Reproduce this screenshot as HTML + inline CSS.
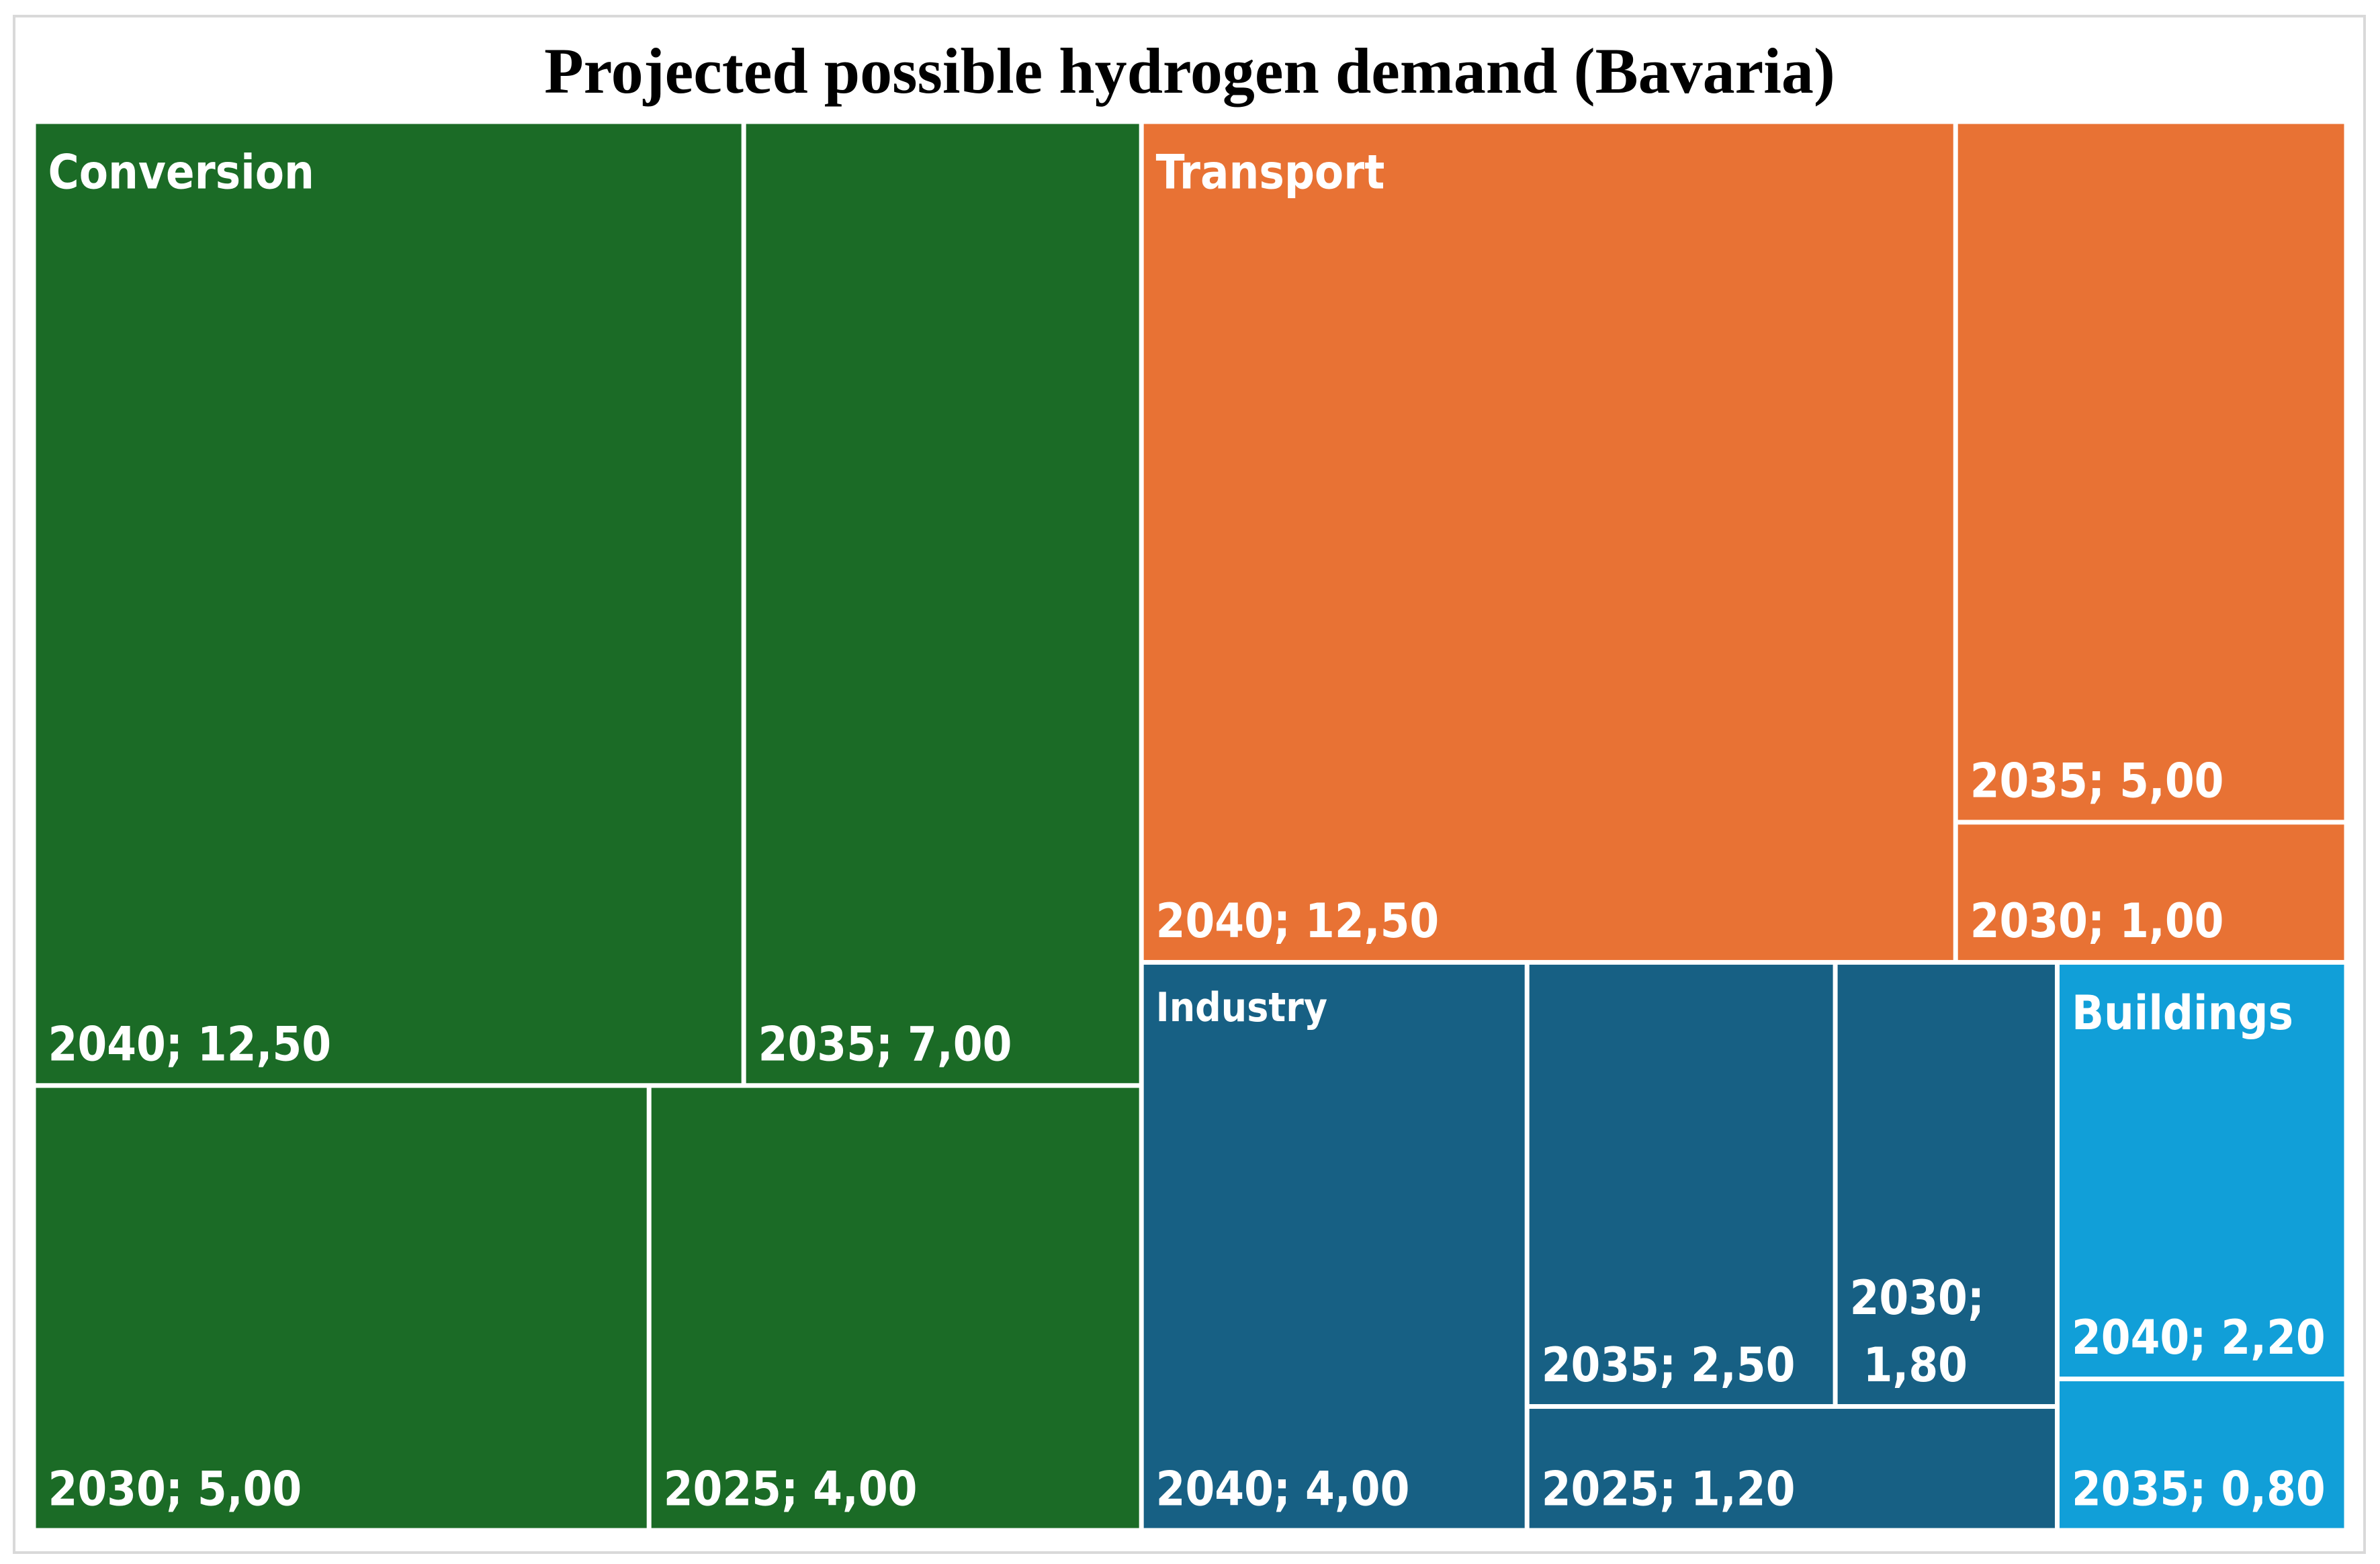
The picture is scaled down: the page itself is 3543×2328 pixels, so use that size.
<!DOCTYPE html>
<html><head><meta charset="utf-8"><style>
html,body{margin:0;padding:0;background:#fff;}
svg{display:block;}
</style></head><body>
<svg id="chart" width="3543" height="2328" viewBox="0 0 3543 2328" xmlns="http://www.w3.org/2000/svg">
<rect x="21" y="24" width="3499" height="2287" fill="#fff" stroke="#d9d9d9" stroke-width="4"/>
<text x="1771" y="138" text-anchor="middle" font-family="Liberation Serif, serif" font-weight="bold" font-size="96" fill="#000">Projected possible hydrogen demand (Bavaria)</text>
<g id="tiles"></g>
</svg>
<script>
const categories = ["Conversion","Transport","Industry","Buildings"];
const conversionYears = ["2040","2035","2030","2025"];
const conversionValues = [12.5,7.0,5.0,4.0];
const transportYears = ["2040","2035","2030"];
const transportValues = [12.5,5.0,1.0];
const industryYears = ["2040","2035","2030","2025"];
const industryValues = [4.0,2.5,1.8,1.2];
const buildingsYears = ["2040","2035"];
const buildingsValues = [2.2,0.8];

const COLORS = {Conversion:"#1b6b26",Transport:"#e87234",Industry:"#176084",Buildings:"#119fd8"};
const X0=50,Y0=181,X1=3493,Y1=2278,GAP=7;
const sum=a=>a.reduce((s,v)=>s+v,0);
const fmt=v=>v.toFixed(2).replace('.',',');
const g=document.getElementById('tiles');
const NS="http://www.w3.org/2000/svg";

function splitH(r,a,b){const w=(r.x1-r.x0)*a/(a+b);return[{x0:r.x0,y0:r.y0,x1:r.x0+w,y1:r.y1},{x0:r.x0+w,y0:r.y0,x1:r.x1,y1:r.y1}];}
function splitV(r,a,b){const h=(r.y1-r.y0)*a/(a+b);return[{x0:r.x0,y0:r.y0,x1:r.x1,y1:r.y0+h},{x0:r.x0,y0:r.y0+h,x1:r.x1,y1:r.y1}];}

function txt(x,y,s,size,name,weight){
  const t=document.createElementNS(NS,'text');
  t.setAttribute('x',x);t.setAttribute('y',y);
  t.setAttribute('font-family','"DejaVu Sans Condensed","Liberation Sans",sans-serif');
  t.setAttribute('font-weight',weight||'bold');
  t.setAttribute('font-size',size);t.setAttribute('fill','#fff');
  t.textContent=s;
  
  
  g.appendChild(t);return t;
}
function tile(r,cat,year,val){
  const h=GAP/2;
  const el=document.createElementNS(NS,'rect');
  el.setAttribute('x',r.x0+h);el.setAttribute('y',r.y0+h);
  el.setAttribute('width',Math.max(0,r.x1-r.x0-GAP));el.setAttribute('height',Math.max(0,r.y1-r.y0-GAP));
  el.setAttribute('fill',COLORS[cat]);
  
  
  g.appendChild(el);
  const label=year+'; '+fmt(val);
  const t=txt(r.x0+h+18,r.y1-h-34,label,70,cat.toLowerCase()+'-'+year+'-label');
  const w=t.getComputedTextLength();
  if(w>r.x1-r.x0-40){
    t.textContent=year+';';
    t.setAttribute('y',r.y1-h-34-100);
    txt(r.x0+h+38,r.y1-h-34,fmt(val),70,cat.toLowerCase()+'-'+year+'-label-line2');
  }
}
function catLabel(r,cat,size,weight){
  txt(r.x0+GAP/2+18,r.y0+GAP/2+96,cat,size,cat.toLowerCase()+'-category-label',weight);
}

const full={x0:X0,y0:Y0,x1:X1,y1:Y1};
const totals=[sum(conversionValues),sum(transportValues),sum(industryValues),sum(buildingsValues)];
const [rConv,rRight]=splitH(full,totals[0],totals[1]+totals[2]+totals[3]);
const [rTrans,rBottom]=splitV(rRight,totals[1],totals[2]+totals[3]);
const [rInd,rBld]=splitH(rBottom,totals[2],totals[3]);

{const v=conversionValues,y=conversionYears;
 const [top,bot]=splitV(rConv,v[0]+v[1],v[2]+v[3]);
 const [a,b]=splitH(top,v[0],v[1]);const [c,d]=splitH(bot,v[2],v[3]);
 tile(a,"Conversion",y[0],v[0]);tile(b,"Conversion",y[1],v[1]);tile(c,"Conversion",y[2],v[2]);tile(d,"Conversion",y[3],v[3]);
 catLabel(a,"Conversion",70);}
{const v=transportValues,y=transportYears;
 const [a,right]=splitH(rTrans,v[0],v[1]+v[2]);const [b,c]=splitV(right,v[1],v[2]);
 tile(a,"Transport",y[0],v[0]);tile(b,"Transport",y[1],v[1]);tile(c,"Transport",y[2],v[2]);
 catLabel(a,"Transport",70);}
{const v=industryValues,y=industryYears;
 const [a,right]=splitH(rInd,v[0],v[1]+v[2]+v[3]);
 const [top,d]=splitV(right,v[1]+v[2],v[3]);const [b,c]=splitH(top,v[1],v[2]);
 tile(a,"Industry",y[0],v[0]);tile(b,"Industry",y[1],v[1]);tile(c,"Industry",y[2],v[2]);tile(d,"Industry",y[3],v[3]);
 txt(a.x0+GAP/2+18,a.y0+GAP/2+84,"Industry",60,'industry-category-label','bold');}
{const v=buildingsValues,y=buildingsYears;
 const [a,b]=splitV(rBld,v[0],v[1]);
 tile(a,"Buildings",y[0],v[0]);tile(b,"Buildings",y[1],v[1]);
 catLabel(a,"Buildings",70);}
</script>
</body></html>
